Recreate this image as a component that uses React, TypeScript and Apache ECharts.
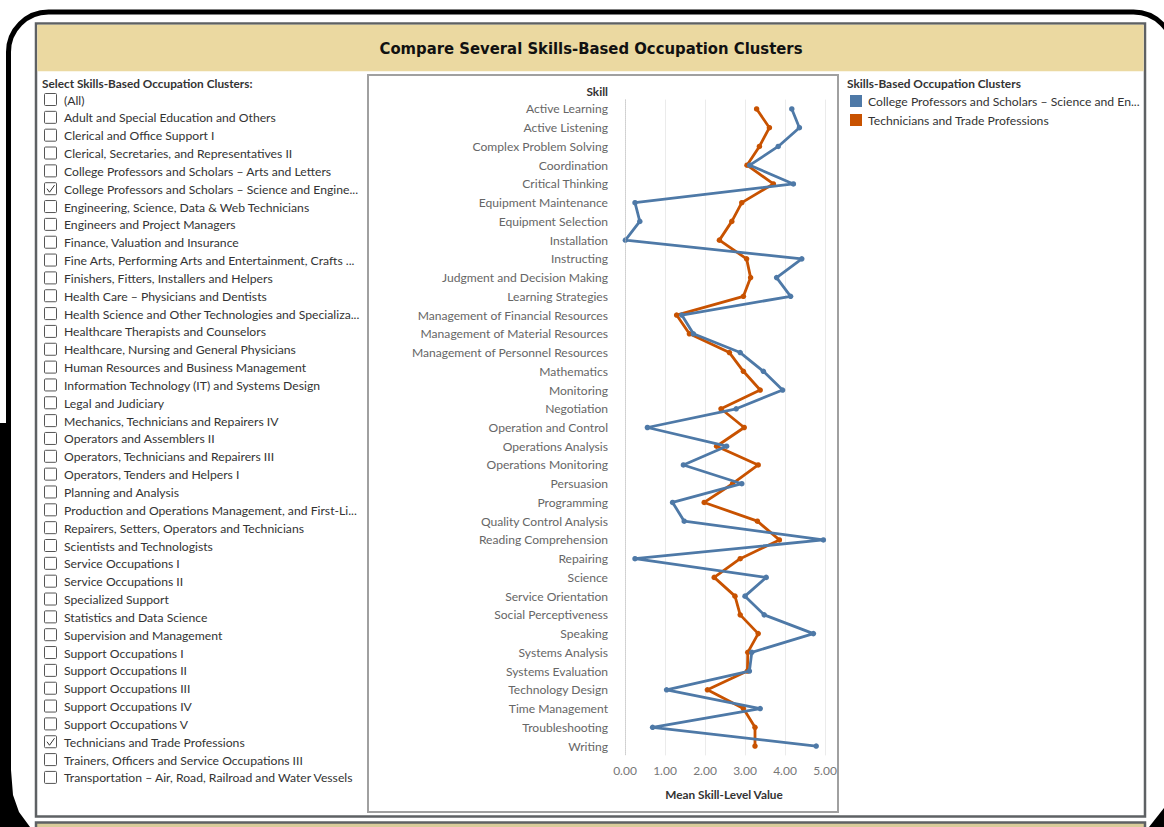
import React, { useEffect, useRef } from "react";
import * as echarts from "echarts";

const skills = [
  "Active Learning", "Active Listening", "Complex Problem Solving", "Coordination", "Critical Thinking",
  "Equipment Maintenance", "Equipment Selection", "Installation", "Instructing", "Judgment and Decision Making",
  "Learning Strategies", "Management of Financial Resources", "Management of Material Resources",
  "Management of Personnel Resources", "Mathematics", "Monitoring", "Negotiation", "Operation and Control",
  "Operations Analysis", "Operations Monitoring", "Persuasion", "Programming", "Quality Control Analysis",
  "Reading Comprehension", "Repairing", "Science", "Service Orientation", "Social Perceptiveness", "Speaking",
  "Systems Analysis", "Systems Evaluation", "Technology Design", "Time Management", "Troubleshooting", "Writing",
];

const professorsValues = [
  4.17, 4.36, 3.83, 3.12, 4.21, 0.25, 0.37, 0.01, 4.42, 3.79, 4.14, 1.42, 1.71, 2.88, 3.46, 3.94, 2.78, 0.56,
  2.54, 1.46, 2.92, 1.19, 1.48, 4.96, 0.25, 3.53, 3.0, 3.48, 4.71, 3.17, 3.11, 1.04, 3.38, 0.69, 4.78,
];

const techniciansValues = [
  3.29, 3.61, 3.36, 3.05, 3.71, 2.92, 2.67, 2.36, 3.04, 3.14, 2.96, 1.29, 1.61, 2.61, 2.96, 3.38, 2.4, 2.98,
  2.29, 3.33, 2.69, 1.98, 3.31, 3.86, 2.88, 2.23, 2.75, 2.88, 3.33, 3.07, 3.06, 2.06, 2.96, 3.25, 3.25,
];

const seriesNames = [
  "College Professors and Scholars – Science and Engineering",
  "Technicians and Trade Professions",
];
const legendLabels = [
  "College Professors and Scholars – Science and En...",
  "Technicians and Trade Professions",
];

const clusterOptions = [
  "(All)",
  "Adult and Special Education and Others",
  "Clerical and Office Support I",
  "Clerical, Secretaries, and Representatives II",
  "College Professors and Scholars – Arts and Letters",
  "College Professors and Scholars – Science and Engine...",
  "Engineering, Science, Data & Web Technicians",
  "Engineers and Project Managers",
  "Finance, Valuation and Insurance",
  "Fine Arts, Performing Arts and Entertainment, Crafts ...",
  "Finishers, Fitters, Installers and Helpers",
  "Health Care – Physicians and Dentists",
  "Health Science and Other Technologies and Specializa...",
  "Healthcare Therapists and Counselors",
  "Healthcare, Nursing and General Physicians",
  "Human Resources and Business Management",
  "Information Technology (IT) and Systems Design",
  "Legal and Judiciary",
  "Mechanics, Technicians and Repairers IV",
  "Operators and Assemblers II",
  "Operators, Technicians and Repairers III",
  "Operators, Tenders and Helpers I",
  "Planning and Analysis",
  "Production and Operations Management, and First-Li...",
  "Repairers, Setters, Operators and Technicians",
  "Scientists and Technologists",
  "Service Occupations I",
  "Service Occupations II",
  "Specialized Support",
  "Statistics and Data Science",
  "Supervision and Management",
  "Support Occupations I",
  "Support Occupations II",
  "Support Occupations III",
  "Support Occupations IV",
  "Support Occupations V",
  "Technicians and Trade Professions",
  "Trainers, Officers and Service Occupations III",
  "Transportation – Air, Road, Railroad and Water Vessels",
];
const checkedClusters = [
  "College Professors and Scholars – Science and Engine...",
  "Technicians and Trade Professions",
];

const xTicks = [0, 1, 2, 3, 4, 5];

const BLUE = "#4e79a7";
const ORANGE = "#c85200";
const FONT = "Lato, 'Noto Sans', sans-serif";

export default function App() {
  const ref = useRef<HTMLDivElement>(null);

  useEffect(() => {
    if (!ref.current) return;
    const chart = echarts.init(ref.current, null, { renderer: "svg" });

    const listTop = 100;
    const listStep = 17.84;
    const listGraphics: any[] = [];
    clusterOptions.forEach((name, i) => {
      const cy = listTop + i * listStep;
      listGraphics.push({
        type: "rect",
        shape: { x: 44.5, y: cy - 6.5, width: 12, height: 12, r: 1 },
        style: { fill: "#fff", stroke: "#555", lineWidth: 1 },
      });
      if (checkedClusters.includes(name)) {
        listGraphics.push({
          type: "polyline",
          shape: { points: [[47, cy - 0.5], [49.5, cy + 3], [54.5, cy - 4]] },
          style: { stroke: "#333", lineWidth: 1, fill: "none" },
        });
      }
      listGraphics.push({
        type: "text",
        x: 64,
        y: cy,
        style: {
          text: name,
          fill: "#333",
          fontSize: 12.2,
          fontFamily: FONT,
          textVerticalAlign: "middle",
          textAlign: "left",
        },
      });
    });

    const option: any = {
      animation: false,
      backgroundColor: "#fff",
      grid: { left: 625, top: 99.6, width: 200, height: 655.8, containLabel: false },
      legend: {
        orient: "vertical",
        left: 850,
        top: 95,
        padding: 0,
        itemWidth: 12,
        itemHeight: 12,
        itemGap: 7,
        icon: "rect",
        data: seriesNames,
        formatter: (name: string) => legendLabels[seriesNames.indexOf(name)],
        textStyle: { color: "#333", fontSize: 12.2, fontFamily: FONT, padding: [0, 0, 0, 1] },
      },
      xAxis: {
        type: "value",
        min: 0,
        max: 5,
        interval: 1,
        axisLine: { show: false },
        axisTick: { show: false },
        splitLine: { show: true, lineStyle: { color: "#ebebeb", width: 1 } },
        axisLabel: {
          color: "#777",
          fontSize: 12,
          fontFamily: FONT,
          margin: 9,
          formatter: (v: number) => (xTicks.includes(v) ? v.toFixed(2) : ""),
        },
      },
      yAxis: {
        type: "category",
        inverse: true,
        data: skills,
        axisLine: { show: false },
        axisTick: { show: false },
        splitLine: { show: false },
        axisLabel: { color: "#666", fontSize: 12.1, fontFamily: FONT, margin: 17 },
      },
      series: [
        {
          name: seriesNames[1],
          type: "line",
          data: techniciansValues.map((v, i) => [v, skills[i]]),
          color: ORANGE,
          lineStyle: { width: 2.8, color: ORANGE },
          symbol: "circle",
          symbolSize: 5.5,
          itemStyle: { color: ORANGE },
          markLine: {
            silent: true,
            symbol: "none",
            label: { show: false },
            lineStyle: { type: "dotted", color: "#bbb", width: 1 },
            data: [{ xAxis: 0 }],
          },
          z: 2,
        },
        {
          name: seriesNames[0],
          type: "line",
          data: professorsValues.map((v, i) => [v, skills[i]]),
          color: BLUE,
          lineStyle: { width: 2.8, color: BLUE },
          symbol: "circle",
          symbolSize: 5.5,
          itemStyle: { color: BLUE },
          z: 3,
        },
      ],
      graphic: [
        // outer black frame
        {
          type: "rect",
          z: -10,
          shape: { x: 8.5, y: 12, width: 1165, height: 880, r: 40 },
          style: { fill: "none", stroke: "#000", lineWidth: 5 },
        },
        {
          type: "rect",
          z: -10,
          shape: { x: 0, y: 423, width: 11, height: 404 },
          style: { fill: "#000" },
        },
        {
          type: "polygon",
          z: -10,
          shape: { points: [[0, 770], [11, 770], [13, 795], [19, 812], [30, 827], [0, 827]] },
          style: { fill: "#000" },
        },
        {
          type: "polygon",
          z: -10,
          shape: { points: [[1164, 808], [1164, 827], [1149, 827]] },
          style: { fill: "#000" },
        },
        // dashboard panel
        {
          type: "rect",
          z: -9,
          shape: { x: 36, y: 23.5, width: 1109, height: 793 },
          style: { fill: "#fff", stroke: "#5e6164", lineWidth: 2.5 },
        },
        {
          type: "rect",
          z: -8,
          shape: { x: 37.3, y: 24.8, width: 1106.4, height: 46.5 },
          style: { fill: "#ebd9a1" },
        },
        {
          type: "rect",
          z: -9,
          shape: { x: 36, y: 822.5, width: 1109, height: 20 },
          style: { fill: "#d9cc9a", stroke: "#5e6164", lineWidth: 2.5 },
        },
        {
          type: "text",
          x: 591,
          y: 48,
          style: {
            text: "Compare Several Skills-Based Occupation Clusters",
            fill: "#111",
            fontSize: 16.5,
            fontWeight: "bold",
            fontFamily: "'DejaVu Sans Condensed', 'Liberation Sans Narrow', sans-serif",
            textAlign: "center",
            textVerticalAlign: "middle",
          },
        },
        // chart panel border
        {
          type: "rect",
          z: -7,
          shape: { x: 368, y: 75, width: 470, height: 737 },
          style: { fill: "none", stroke: "#a0a0a0", lineWidth: 2 },
        },
        {
          type: "text",
          x: 608,
          y: 91,
          style: {
            text: "Skill",
            fill: "#333",
            fontSize: 11.8,
            fontWeight: "bold",
            fontFamily: FONT,
            textAlign: "right",
            textVerticalAlign: "middle",
          },
        },
        {
          type: "text",
          x: 724,
          y: 794,
          style: {
            text: "Mean Skill-Level Value",
            fill: "#333",
            fontSize: 11.8,
            fontWeight: "bold",
            fontFamily: FONT,
            textAlign: "center",
            textVerticalAlign: "middle",
          },
        },
        // left filter panel
        {
          type: "text",
          x: 42,
          y: 83,
          style: {
            text: "Select Skills-Based Occupation Clusters:",
            fill: "#333",
            fontSize: 11.8,
            fontWeight: "bold",
            fontFamily: FONT,
            textAlign: "left",
            textVerticalAlign: "middle",
          },
        },
        ...listGraphics,
        // legend title
        {
          type: "text",
          x: 847,
          y: 83,
          style: {
            text: "Skills-Based Occupation Clusters",
            fill: "#333",
            fontSize: 11.9,
            fontWeight: "bold",
            fontFamily: FONT,
            textAlign: "left",
            textVerticalAlign: "middle",
          },
        },
      ],
    };

    chart.setOption(option);
    return () => chart.dispose();
  }, []);

  return (
    <div
      ref={ref}
      style={{ position: "absolute", left: 0, top: 0, width: 1164, height: 827 }}
    />
  );
}
